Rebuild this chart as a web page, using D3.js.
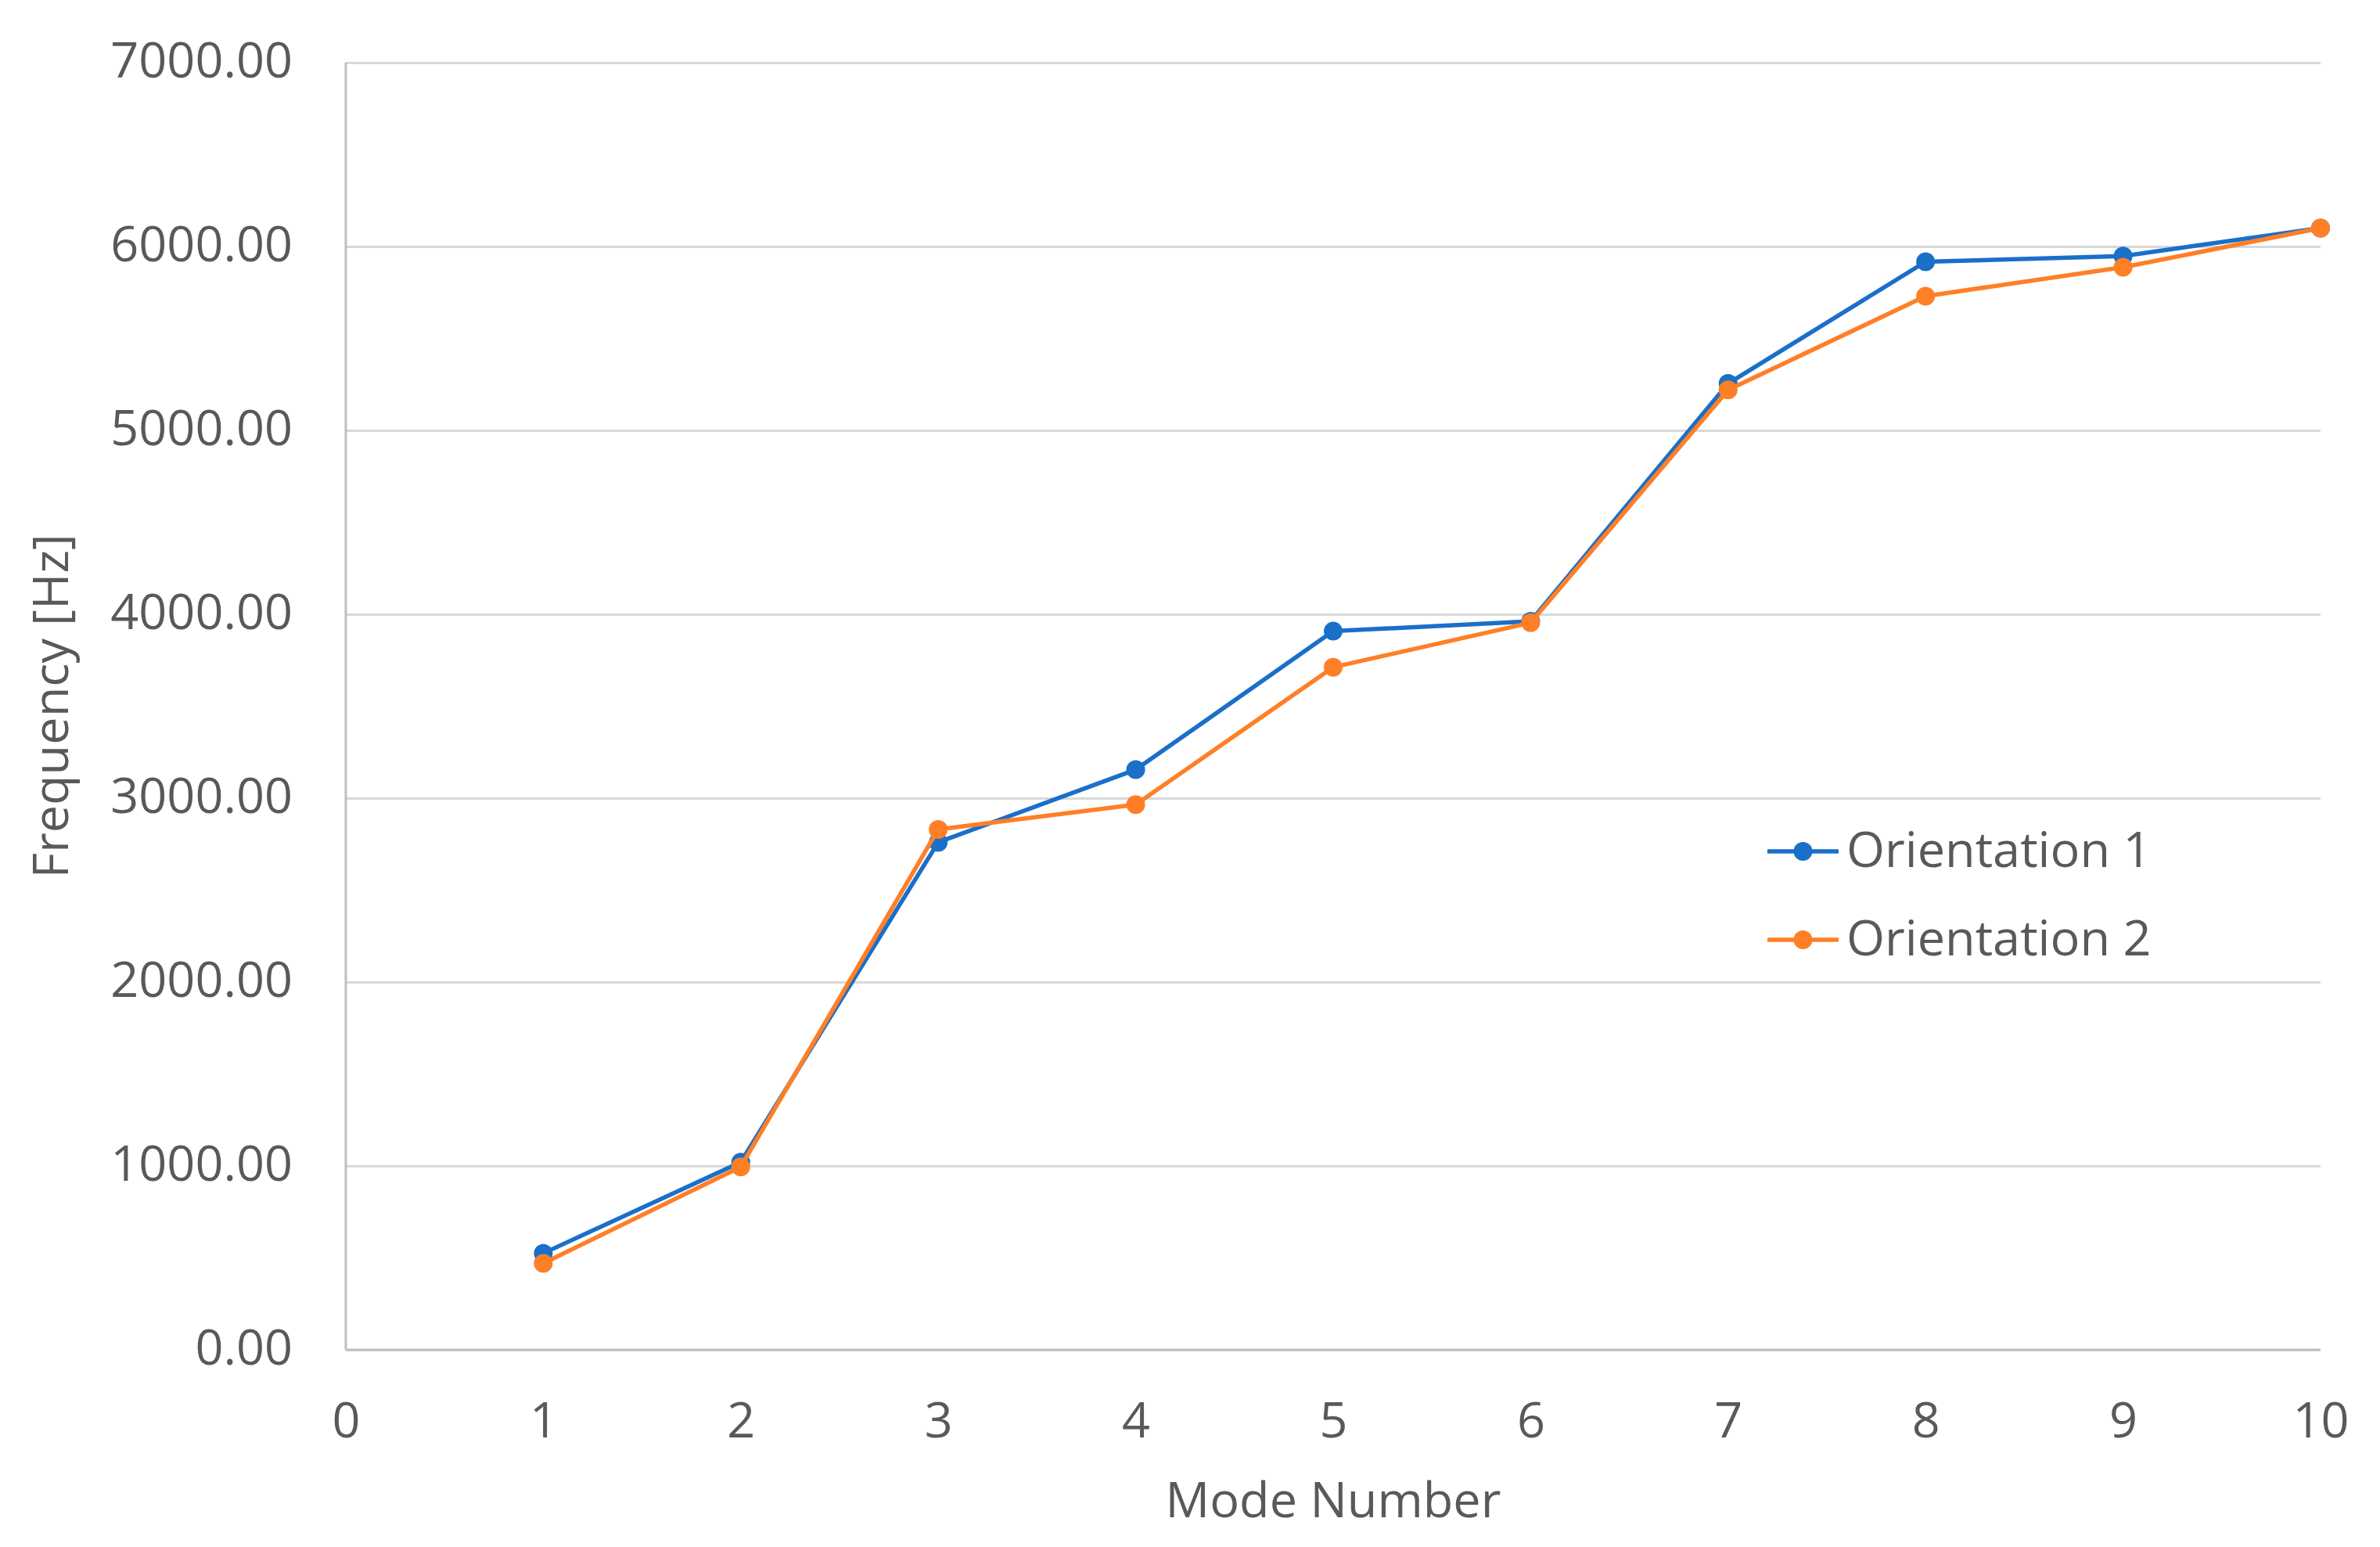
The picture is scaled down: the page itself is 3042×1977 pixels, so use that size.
<!DOCTYPE html>
<html>
<head>
<meta charset="utf-8">
<script src="https://cdn.jsdelivr.net/npm/d3@7"></script>
<style>
  html, body { margin: 0; padding: 0; background: #ffffff; }
  svg text { font-family: "Open Sans", "Noto Sans", sans-serif; fill: #595959; }
</style>
</head>
<body>
<svg id="chart" width="3042" height="1977"></svg>
<script>
// ---- data ----
const modes = [1, 2, 3, 4, 5, 6, 7, 8, 9, 10];
const orientation1 = [525, 1020, 2760, 3155, 3908, 3962, 5255, 5917, 5948, 6100];
const orientation2 = [470, 995, 2830, 2965, 3712, 3954, 5220, 5730, 5887, 6100];
const seriesNames = ["Orientation 1", "Orientation 2"];
const seriesColors = ["#1A6FC9", "#FF7F27"];
const xTicks = [0, 1, 2, 3, 4, 5, 6, 7, 8, 9, 10];
const yTicks = [0, 1000, 2000, 3000, 4000, 5000, 6000, 7000];
const xTitle = "Mode Number";
const yTitle = "Frequency [Hz]";

// ---- layout ----
const W = 3042, H = 1977;
const margin = { left: 442, right: 3042 - 2966, top: 80, bottom: 1977 - 1725 };
const iw = W - margin.left - margin.right;
const ih = H - margin.top - margin.bottom;
const fontSize = 63;

const svg = d3.select("#chart");
const g = svg.append("g").attr("transform", `translate(${margin.left},${margin.top})`);

const x = d3.scaleLinear().domain([0, 10]).range([0, iw]);
const y = d3.scaleLinear().domain([0, 7000]).range([ih, 0]);

// gridlines + y axis labels
const yAxis = d3.axisLeft(y).tickValues(yTicks).tickFormat(d3.format(".2f"))
  .tickSize(-iw).tickPadding(68);
const yg = g.append("g").call(yAxis);
yg.select(".domain").remove();
yg.selectAll(".tick line").attr("stroke", "#d9d9d9").attr("stroke-width", 3);
yg.selectAll(".tick text").attr("font-size", fontSize).attr("dy", "0.29em").attr("x", -68);

// bottom axis labels
const xAxis = d3.axisBottom(x).tickValues(xTicks).tickFormat(d3.format("d")).tickSize(0).tickPadding(0);
const xg = g.append("g").attr("transform", `translate(0,${ih})`).call(xAxis);
xg.select(".domain").remove();
xg.selectAll(".tick text").attr("font-size", fontSize).attr("dy", null).attr("y", 112);

// axis lines
g.append("line").attr("x1", 0).attr("x2", 0).attr("y1", 0).attr("y2", ih)
  .attr("stroke", "#bfbfbf").attr("stroke-width", 3);
g.append("line").attr("x1", 0).attr("x2", iw).attr("y1", ih).attr("y2", ih)
  .attr("stroke", "#bfbfbf").attr("stroke-width", 3);

// series
const allSeries = [orientation1, orientation2];
const line = d3.line().x((d, i) => x(modes[i])).y(d => y(d));
allSeries.forEach((vals, si) => {
  const sg = g.append("g");
  sg.append("path").datum(vals).attr("d", line)
    .attr("fill", "none").attr("stroke", seriesColors[si]).attr("stroke-width", 5.5)
    .attr("stroke-linejoin", "round");
  sg.selectAll("circle").data(vals).join("circle")
    .attr("cx", (d, i) => x(modes[i])).attr("cy", d => y(d)).attr("r", 12)
    .attr("fill", seriesColors[si]);
});

// axis titles
svg.append("text").attr("x", margin.left + iw / 2).attr("y", 1939)
  .attr("text-anchor", "middle").attr("font-size", fontSize).text(xTitle);
svg.append("text").attr("transform", `translate(87,${margin.top + ih / 2}) rotate(-90)`)
  .attr("text-anchor", "middle").attr("font-size", fontSize).text(yTitle);

// legend
const legend = svg.append("g").attr("transform", "translate(2259,1088)");
seriesNames.forEach((name, i) => {
  const lg = legend.append("g").attr("transform", `translate(0,${i * 113})`);
  lg.append("line").attr("x1", 0).attr("x2", 91).attr("y1", 0).attr("y2", 0)
    .attr("stroke", seriesColors[i]).attr("stroke-width", 5.5);
  lg.append("circle").attr("cx", 45.5).attr("cy", 0).attr("r", 12).attr("fill", seriesColors[i]);
  lg.append("text").attr("x", 101).attr("y", 20).attr("font-size", fontSize).text(name);
});
</script>
</body>
</html>
